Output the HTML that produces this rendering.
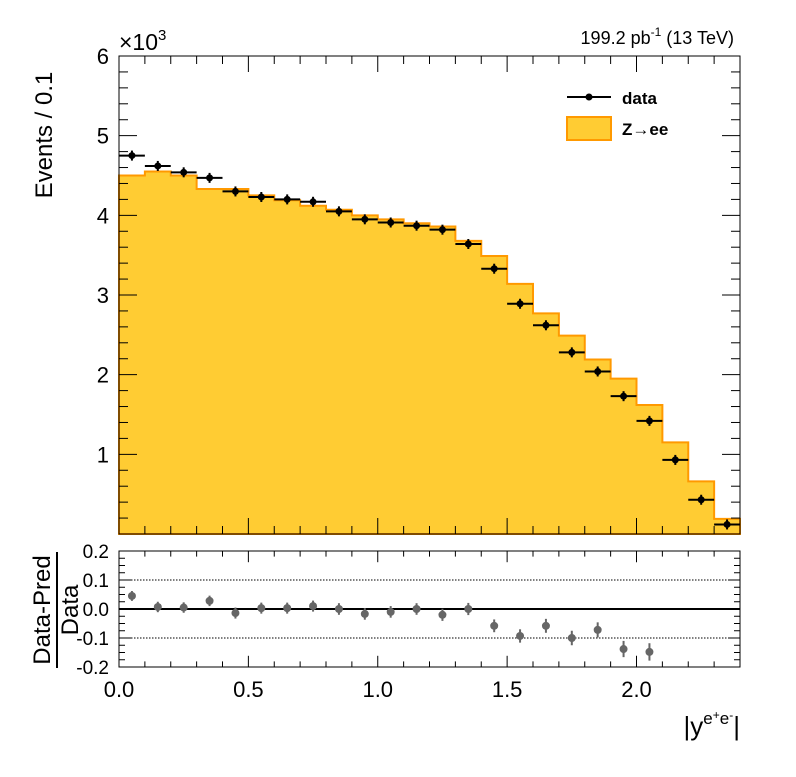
<!DOCTYPE html>
<html><head><meta charset="utf-8"><style>
body{margin:0;background:#fff}
svg text{font-family:"Liberation Sans",sans-serif}
</style></head><body>
<svg id="c" width="796" height="772" xmlns="http://www.w3.org/2000/svg"></svg>
<script>
const binEdges0 = 0, binWidth = 0.1;
const mcValues = [4.50,4.55,4.50,4.33,4.33,4.25,4.19,4.12,4.07,4.00,3.95,3.90,3.86,3.68,3.49,3.14,2.77,2.49,2.19,1.95,1.62,1.15,0.66,0.19];
const dataValues = [4.75,4.62,4.54,4.47,4.30,4.23,4.20,4.17,4.05,3.95,3.91,3.87,3.82,3.64,3.33,2.89,2.62,2.28,2.04,1.73,1.42,0.93,0.43,0.12];
const ratioValues = [0.045,0.007,0.005,0.028,-0.014,0.003,0.003,0.01,0.0,-0.017,-0.01,0.0,-0.02,0.0,-0.058,-0.093,-0.058,-0.1,-0.072,-0.138,-0.148];
const ratioErrors = [0.017,0.018,0.018,0.018,0.019,0.019,0.019,0.019,0.02,0.02,0.02,0.02,0.021,0.021,0.022,0.023,0.024,0.025,0.026,0.028,0.03];
const yTicks = [1,2,3,4,5,6];
const rTicks = [-0.2,-0.1,0.0,0.1,0.2];
const xTicks = [0,0.5,1.0,1.5,2.0];

const NS="http://www.w3.org/2000/svg";
const svg=document.getElementById('c');
function el(t,a,p){const e=document.createElementNS(NS,t);for(const k in a)e.setAttribute(k,a[k]);(p||svg).appendChild(e);return e;}
const X0=119,X1=740,Y0=534,Y1=56,R0=667,R1=551;
const sx=v=>X0+(v/2.4)*(X1-X0);
const sy=v=>Y0-(v/6)*(Y0-Y1);
const sr=v=>609-v/0.2*(R0-R1)/2;

let d=`M${sx(0)},${Y0}`;
mcValues.forEach((v,i)=>{d+=` L${sx(i*binWidth)},${sy(v)} L${sx((i+1)*binWidth)},${sy(v)}`;});
d+=` L${sx(2.4)},${Y0} Z`;
const h=el('path',{d,fill:'#ffcc33',stroke:'#ff9900','stroke-width':2});



const f1=el('rect',{x:X0,y:Y1,width:X1-X0,height:Y0-Y1,fill:'none',stroke:'#000','stroke-width':1});

const f2=el('rect',{x:X0,y:R1,width:X1-X0,height:R0-R1,fill:'none',stroke:'#000','stroke-width':1});


for(let i=0;i<=24;i++){const v=i*0.1,x=sx(v),L=(i%5==0)?16:8;
 el('line',{x1:x,y1:Y0,x2:x,y2:Y0-L,stroke:'#000'});el('line',{x1:x,y1:Y1,x2:x,y2:Y1+L,stroke:'#000'});
 el('line',{x1:x,y1:R0,x2:x,y2:R0-L*0.7,stroke:'#000'});el('line',{x1:x,y1:R1,x2:x,y2:R1+L*0.7,stroke:'#000'});}
xTicks.forEach(v=>{const t=el('text',{x:sx(v),y:697,'font-size':22,'text-anchor':'middle'});t.textContent=v.toFixed(1);
 });
for(let i=1;i<=30;i++){const v=i*0.2,y=sy(v),L=(i%5==0)?18:9;
 el('line',{x1:X0,y1:y,x2:X0+L,y2:y,stroke:'#000'});el('line',{x1:X1,y1:y,x2:X1-L,y2:y,stroke:'#000'});}
yTicks.forEach(v=>{const t=el('text',{x:109,y:sy(v)+8,'font-size':22,'text-anchor':'end'});t.textContent=v;
 });
for(let i=-8;i<=8;i++){const v=i*0.025,y=sr(v),L=(i%4==0)?12:6;
 el('line',{x1:X0,y1:y,x2:X0+L,y2:y,stroke:'#000'});el('line',{x1:X1,y1:y,x2:X1-L,y2:y,stroke:'#000'});}
rTicks.forEach(v=>{const t=el('text',{x:109,y:sr(v)+7,'font-size':19,'text-anchor':'end'});t.textContent=v.toFixed(1);
 });
el('line',{x1:X0,y1:sr(0.1),x2:X1,y2:sr(0.1),stroke:'#000','stroke-dasharray':'1.5,1.5'});
el('line',{x1:X0,y1:sr(-0.1),x2:X1,y2:sr(-0.1),stroke:'#000','stroke-dasharray':'1.5,1.5'});
el('line',{x1:X0,y1:sr(0),x2:X1,y2:sr(0),stroke:'#000','stroke-width':2});

dataValues.forEach((v,i)=>{const xc=sx((i+0.5)*binWidth),y=sy(v);
 el('line',{x1:sx(i*binWidth),y1:y,x2:sx((i+1)*binWidth),y2:y,stroke:'#000','stroke-width':2});
 el('line',{x1:xc,y1:y-5,x2:xc,y2:y+5,stroke:'#000','stroke-width':2});
 const c=el('circle',{cx:xc,cy:y,r:3.5,fill:'#000'});
 });
ratioValues.forEach((v,i)=>{const xc=sx((i+0.5)*binWidth),e=ratioErrors[i];
 el('line',{x1:xc,y1:sr(v+e),x2:xc,y2:sr(v-e),stroke:'#666','stroke-width':2});
 const c=el('circle',{cx:xc,cy:sr(v),r:4,fill:'#666'});
 });

el('line',{x1:567,y1:97,x2:611,y2:97,stroke:'#000','stroke-width':2});
el('circle',{cx:589,cy:97,r:3.5,fill:'#000'});
el('rect',{x:567,y:117,width:44,height:23,fill:'#ffcc33',stroke:'#ff9900','stroke-width':2});
</script>
<svg width="796" height="772" style="position:absolute;left:0;top:0" xmlns="http://www.w3.org/2000/svg">
<text x="622" y="104" font-size="17" font-weight="bold">data</text>
<text x="622" y="135" font-size="17" font-weight="bold">Z→ee</text>
<text x="119" y="50" font-size="23">×10<tspan font-size="15" dy="-10">3</tspan></text>
<text x="734" y="44" font-size="18" text-anchor="end">199.2 pb<tspan font-size="12" dy="-8">-1</tspan><tspan dy="8">  (13 TeV)</tspan></text>
<text transform="translate(52,135) rotate(-90)" font-size="24" text-anchor="middle">Events / 0.1</text>
<g transform="translate(60,610) rotate(-90)">
<text x="0" y="-10" font-size="24" text-anchor="middle">Data-Pred</text>
<line x1="-58" y1="-3" x2="58" y2="-3" stroke="#000" stroke-width="2"/>
<text x="0" y="18" font-size="24" text-anchor="middle">Data</text></g>
<text x="740" y="735" font-size="26" text-anchor="end">|y<tspan font-size="17" dy="-11">e<tspan font-size="12" dy="-5">+</tspan><tspan dy="5">e</tspan><tspan font-size="12" dy="-5">-</tspan></tspan><tspan dy="16">|</tspan></text>
</svg>
</body></html>
